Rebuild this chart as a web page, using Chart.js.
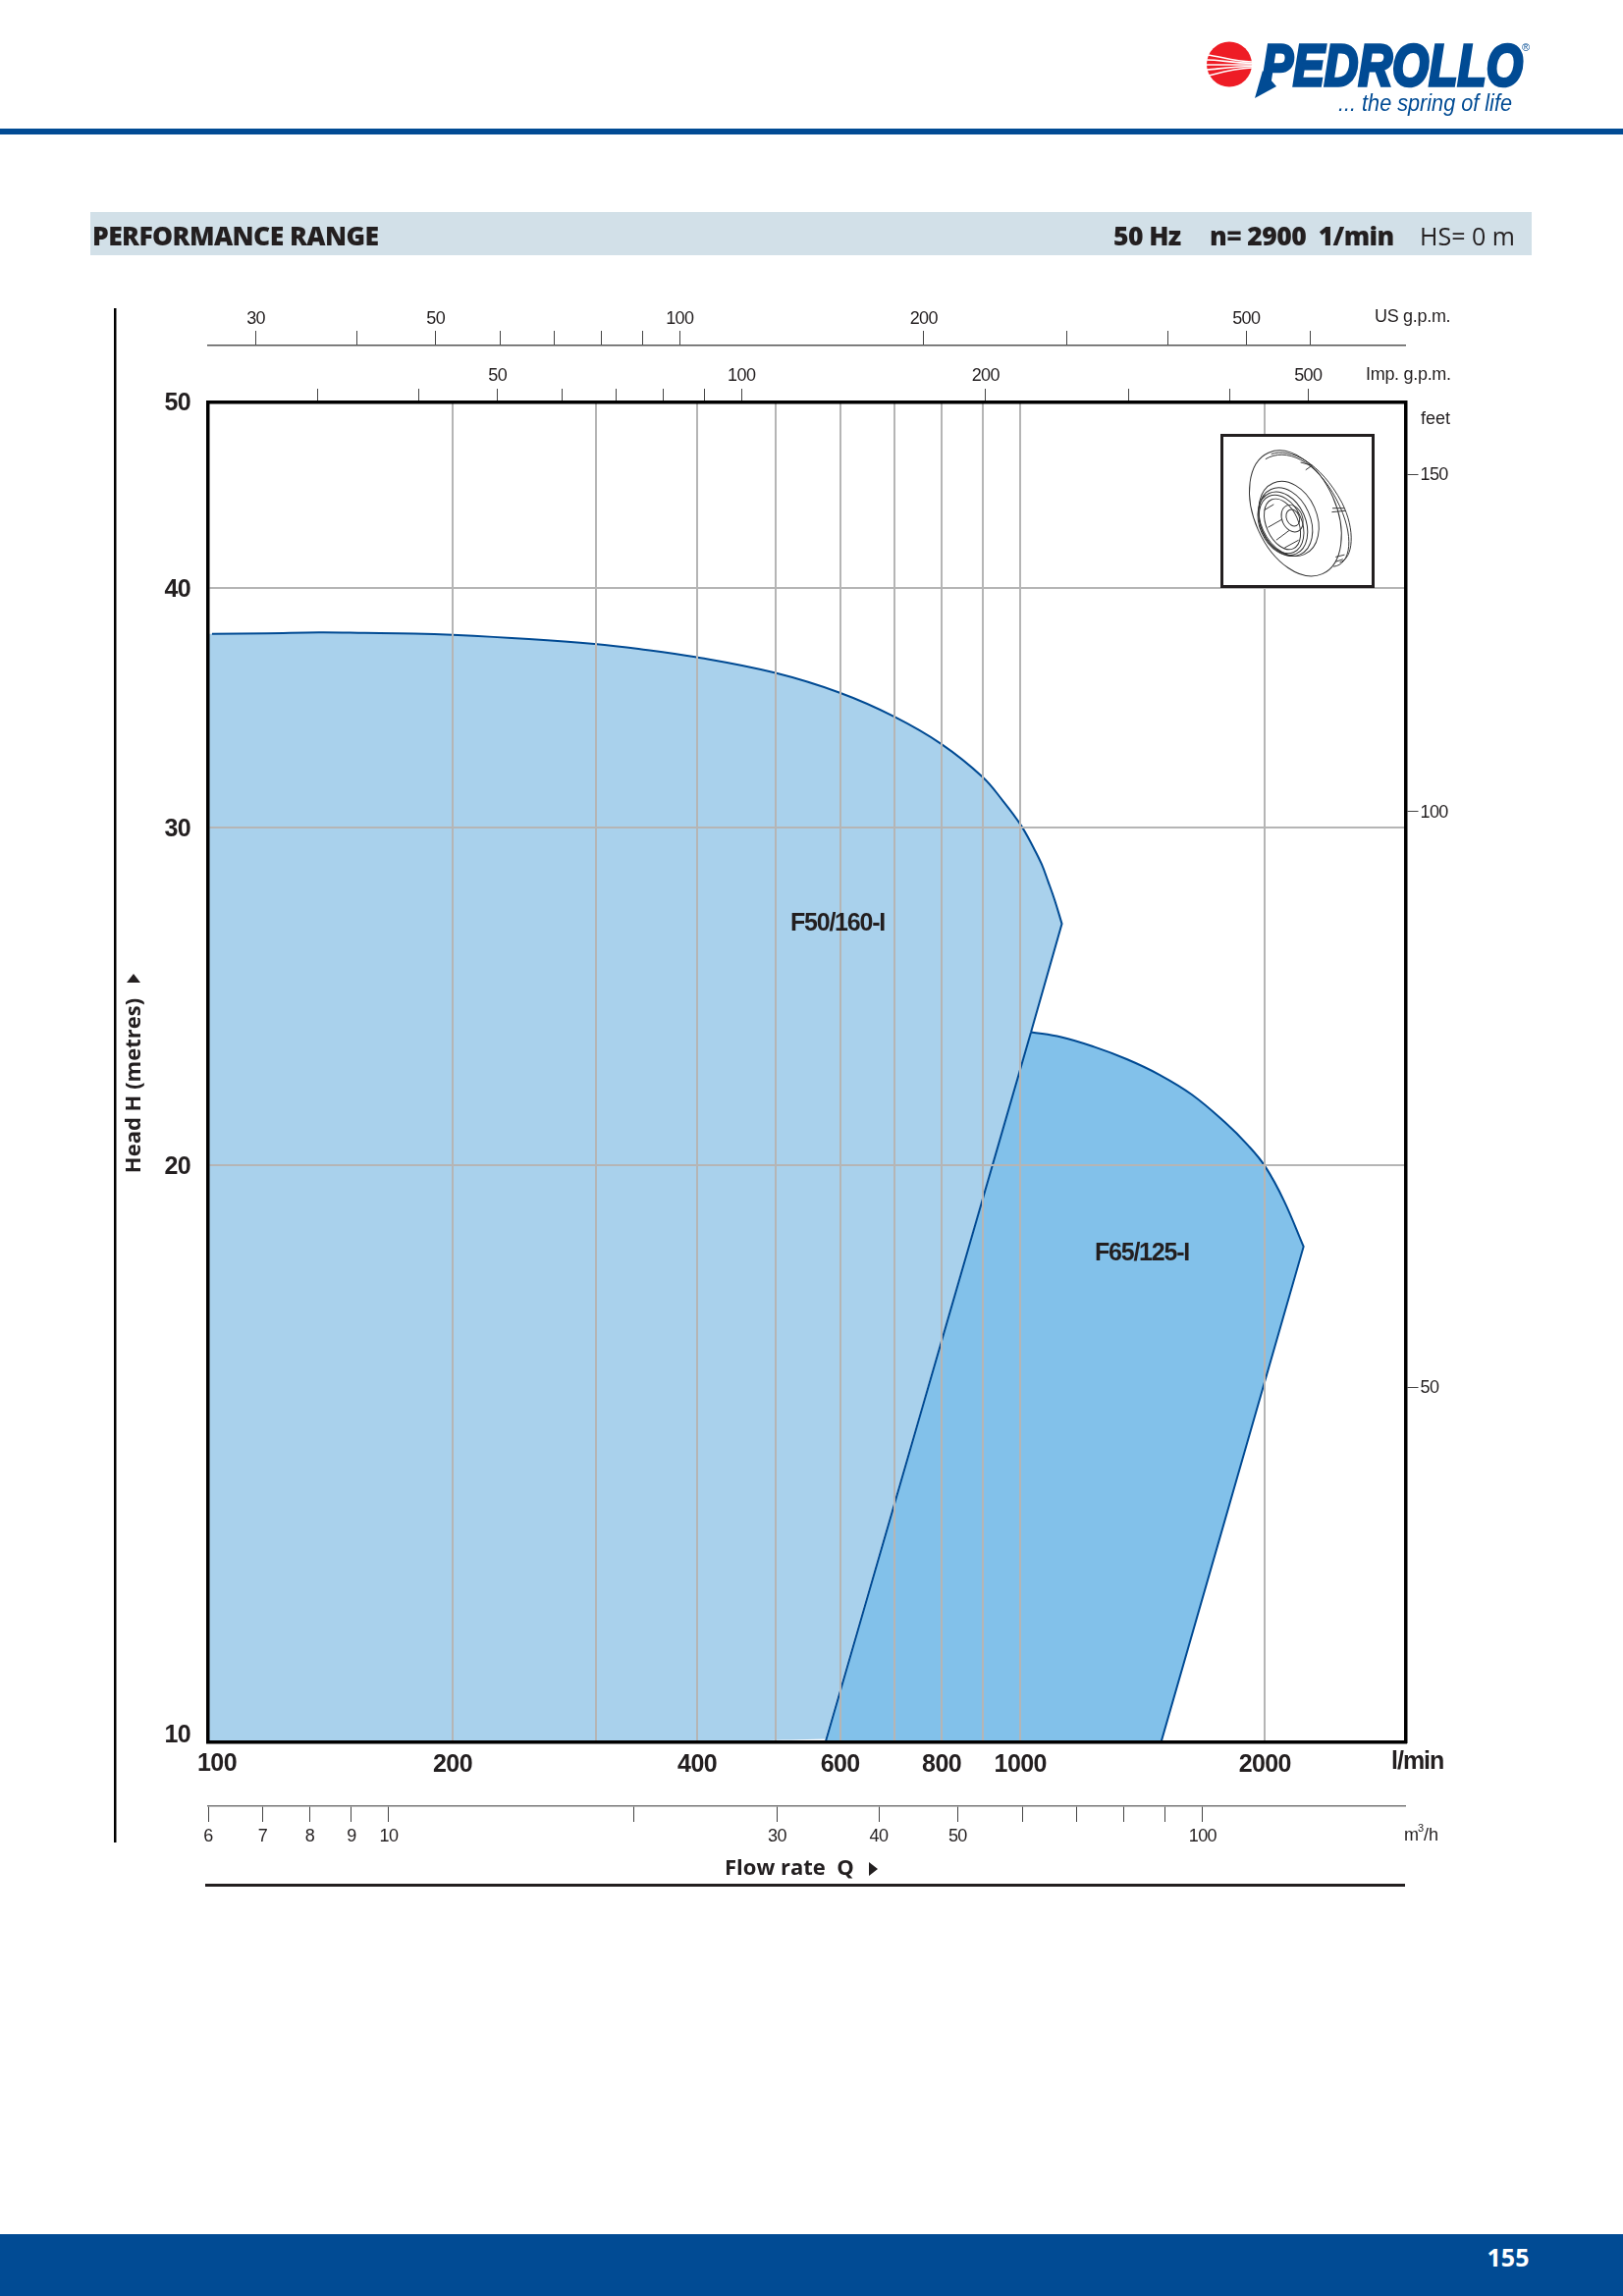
<!DOCTYPE html>
<html>
<head>
<meta charset="utf-8">
<title>Performance range</title>
<script src="https://cdn.jsdelivr.net/npm/chart.js@4"></script>
<style>
  html, body { margin: 0; padding: 0; background: #fff; }
  #page { position: relative; width: 1653px; height: 2339px; overflow: hidden; }
  #chart { position: absolute; left: 0; top: 0; }
  #logo { position: absolute; left: 0; top: 0; }
  #rule { position: absolute; left: 0; top: 131px; width: 1653px; height: 6px; background: #014b94; }
  #band { position: absolute; left: 92px; top: 216px; width: 1468px; height: 44px; background: #d2e0e8; }
  .bandtext { position: absolute; top: 216px; line-height: 48px; color: #231f20; font-family: "Open Sans", sans-serif; white-space: pre; }
  .heavy { font-size: 26.5px; font-weight: 800; letter-spacing: -0.6px; }
  #impeller { position: absolute; left: 1243px; top: 442px; width: 157px; height: 157px; box-sizing: border-box; border: 3px solid #231f20; background: #fff; }
  #footer { position: absolute; left: 0; top: 2276px; width: 1653px; height: 63px; background: #014b94; }
  #pageno { position: absolute; left: 1512px; top: 2276px; width: 48px; text-align: center; color: #fff; font: bold 25px/46px "Open Sans", sans-serif; }
</style>
</head>
<body>
<div id="page">
  <canvas id="chart" width="1653" height="2339"></canvas>

  <svg id="logo" width="1653" height="130" viewBox="0 0 1653 130">
    <circle cx="1252" cy="65.5" r="23" fill="#ee1c25"/>
    <g fill="none" stroke="#fff" stroke-width="1.6">
      <path d="M1229 56 C1242 57 1254 62 1275 63"/>
      <path d="M1229 61 C1242 61 1254 64 1275 64.5"/>
      <path d="M1229 66 C1242 66 1254 66 1275 66"/>
      <path d="M1229 71 C1242 70 1254 68 1275 67.5"/>
      <path d="M1231 77 C1243 74 1256 70 1275 69"/>
    </g>
    <text x="1285" y="87" font-family="'Liberation Sans', sans-serif" font-size="60" font-weight="bold" font-style="italic" fill="#014b94" stroke="#014b94" stroke-width="3.5" textLength="266" lengthAdjust="spacingAndGlyphs">PEDROLLO</text>
    <path d="M1286 72 L1300 88 L1278 100 Z" fill="#014b94"/>
    <text x="1554" y="52" font-family="'Liberation Sans', sans-serif" font-size="11" fill="#014b94" text-anchor="middle">®</text>
    <text x="1363" y="113" font-family="'Liberation Sans', sans-serif" font-size="23" font-style="italic" fill="#014b94" textLength="177" lengthAdjust="spacingAndGlyphs">... the spring of life</text>
  </svg>
  <div id="rule"></div>

  <div id="band"></div>
  <div class="bandtext heavy" style="left:94px">PERFORMANCE RANGE</div>
  <div class="bandtext heavy" style="left:1134px">50 Hz</div>
  <div class="bandtext heavy" style="left:1232px">n= 2900  1/min</div>
  <div class="bandtext" style="left:1446px;font-size:25px">HS= 0 m</div>

  <!-- impeller drawing, coordinates follow a 3x crop of the box -->
  <svg id="impeller" viewBox="40 38 465 465">
    <g fill="none" stroke="#333" stroke-width="3">
      <ellipse cx="266" cy="278" rx="128" ry="208" transform="rotate(-24 266 278)"/>
      <path d="M172 108 C235 70 330 110 395 235 C455 350 440 440 385 445"/>
      <path d="M190 92 C250 72 345 118 412 245 C455 330 448 420 405 432"/>
      <path d="M282 118 L318 128 M298 142 L318 128"/>
      <path d="M382 262 L420 262 M380 274 L422 270"/>
      <path d="M392 415 L420 408 M392 430 L415 422"/>
      <ellipse cx="245" cy="295" rx="88" ry="122" transform="rotate(-24 245 295)"/>
      <ellipse cx="235" cy="305" rx="78" ry="112" transform="rotate(-24 235 305)"/>
      <ellipse cx="226" cy="310" rx="72" ry="104" transform="rotate(-24 226 310)"/>
      <ellipse cx="222" cy="312" rx="64" ry="96" transform="rotate(-24 222 312)"/>
      <ellipse cx="225" cy="312" rx="50" ry="84" transform="rotate(-24 225 312)"/>
      <ellipse cx="258" cy="292" rx="20" ry="27" transform="rotate(-24 258 292)"/>
      <ellipse cx="256" cy="294" rx="32" ry="44" transform="rotate(-24 256 294)"/>
      <path d="M168 268 L198 250 M180 322 L222 298 M206 362 L246 332 M232 386 L276 362"/>
    </g>
  </svg>

  <div id="footer"></div>
  <div id="pageno">155</div>
</div>

<script>
// values
// a repeated point keeps its corner sharp once the line gets tension

// flow l/min and head m along the top of the F50/160-I range
var f50Flow = [101.1, 118.1, 137, 156, 179.4, 200, 248.2, 298.9, 338.8, 397.9, 498.1, 599.4, 699.7, 800.6, 898.3, 949.7, 1000.6, 1037.5, 1062, 1082, 1102, 1125, 1125];
var f50Head = [37.87, 37.89, 37.93, 37.91, 37.88, 37.82, 37.63, 37.41, 37.19, 36.83, 36.14, 35.28, 34.28, 33.16, 31.89, 31.02, 30.11, 29.3, 28.72, 28.12, 27.51, 26.73, 26.73];
// right edge as far as the F65 corner
var f50EdgeFlow = [1030.6];
var f50EdgeHead = [23.47];
// corners that close the F50 area along the bottom and up the left side
var f50BaseFlow = [575.2, 575.2, 398, 398, 100.3, 100.3, 100.3, 100.3, 101.1];
var f50BaseHead = [10.04, 10.04, 10, 10, 10, 10, 37.87, 37.87, 37.87];

var f65Flow = [1030.6, 1030.6, 1122.7, 1232, 1352, 1483, 1627, 1786, 1906, 2002, 2111, 2232, 2232, 1490, 1490, 575.4, 575.4, 1030.6, 1030.6];
var f65Head = [23.47, 23.47, 23.33, 23.06, 22.72, 22.3, 21.77, 21.06, 20.49, 19.97, 19.17, 18.14, 18.14, 10, 10, 10, 10, 23.47, 23.47];

// main axes
var flowTicks = [100, 200, 300, 400, 500, 600, 700, 800, 900, 1000, 2000];
var flowLabels = [200, 400, 600, 800, 1000, 2000];
var headTicks = [10, 20, 30, 40, 50];
var headLabels = [20, 30, 40, 50];

// secondary axes
var usTicks = [30, 40, 50, 60, 70, 80, 90, 100, 200, 300, 400, 500, 600];
var usLabels = [30, 50, 100, 200, 500];
var impTicks = [30, 40, 50, 60, 70, 80, 90, 100, 200, 300, 400, 500];
var impLabels = [50, 100, 200, 500];
var m3hTicks = [6, 7, 8, 9, 10, 20, 30, 40, 50, 60, 70, 80, 90, 100];
var m3hLabels = [6, 7, 8, 9, 10, 30, 40, 50, 100];
var feetTicks = [50, 100, 150];

var NARROW = '"Liberation Sans Narrow", "Liberation Sans", sans-serif';
var SANS = '"Open Sans", sans-serif';
var INK = '#231f20';
var LINE_BLUE = '#004a93';

function zip(xs, ys) {
  return xs.map(function (x, i) { return { x: x, y: ys[i] }; });
}

function tickList(values) {
  return function (axis) {
    axis.ticks = values.map(function (v) { return { value: v }; });
  };
}

function labelOnly(values) {
  return function (v) {
    return values.indexOf(v) >= 0 ? String(v) : '';
  };
}

function fixedHeight(h) {
  return function (axis) { axis.height = h; };
}

function fixedWidth(w) {
  return function (axis) { axis.width = w; };
}

// thin secondary log axis, only ticks and labels
function sideAxis(axisName, position, min, max, ticks, labels, size, tickLength, padding, weight) {
  var horizontal = axisName === 'x';
  return {
    type: 'logarithmic',
    axis: axisName,
    position: position,
    min: min,
    max: max,
    bounds: 'data',
    weight: weight,
    afterBuildTicks: tickList(ticks),
    afterFit: horizontal ? fixedHeight(size) : fixedWidth(size),
    grid: { drawOnChartArea: false, drawTicks: true, tickLength: tickLength, color: '#444', lineWidth: 1 },
    ticks: {
      autoSkip: false, maxRotation: 0, minRotation: 0, padding: padding,
      labelOffset: horizontal ? 0 : 1,
      color: INK, font: { family: NARROW, size: 18 },
      callback: labelOnly(labels)
    }
  };
}

// the printed tick digits are condensed, no such face here so tighten them
var tightTicks = {
  id: 'tightTicks',
  beforeDraw: function (chart) {
    chart.ctx.letterSpacing = '-0.6px';
  }
};

// loose text around the plot: units, axis names, the model names
var pageText = {
  id: 'pageText',
  afterDraw: function (chart) {
    var c = chart.ctx;
    var sx = chart.scales.x, sy = chart.scales.y;

    function put(text, x, y, font, align, spacing) {
      c.font = font;
      c.textAlign = align || 'left';
      c.textBaseline = 'middle';
      c.letterSpacing = spacing || '0px';
      c.fillStyle = INK;
      c.fillText(text, x, y);
    }

    c.save();
    var bold = 'bold 25px ' + NARROW;
    var thin = '18px ' + NARROW;

    // the corner labels sit off their ticks
    put('100', sx.getPixelForValue(100) + 9, 1797, bold, 'center', '-0.6px');
    put('10', 194, sy.getPixelForValue(10) - 7, bold, 'right', '-0.6px');

    put('l/min', 1417, 1795, bold, 'left', '-1px');
    put('US g.p.m.', 1400, 323, thin, 'left', '-0.3px');
    put('Imp. g.p.m.', 1391, 382, thin, 'left', '-0.3px');
    put('feet', 1447, 427, thin);
    put('m', 1430, 1870, thin);
    put('3', 1444, 1863, '11px ' + NARROW);
    put('/h', 1450, 1870, thin);

    put('F50/160-I', 853, 941, bold, 'center', '-1.2px');
    put('F65/125-I', 1163, 1277, bold, 'center', '-1.2px');

    put('Flow rate  Q', 738, 1904, 'bold 22px ' + SANS);
    c.beginPath();
    c.moveTo(885, 1897);
    c.lineTo(894, 1904);
    c.lineTo(885, 1911);
    c.closePath();
    c.fill();

    c.save();
    c.translate(137, 1106);
    c.rotate(-Math.PI / 2);
    put('Head H (metres)', 0, 0, 'bold 22px ' + SANS, 'center');
    c.restore();
    c.beginPath();
    c.moveTo(129, 1001);
    c.lineTo(136, 992);
    c.lineTo(143, 1001);
    c.closePath();
    c.fill();

    // frame rules outside the plot
    c.fillStyle = '#000';
    c.fillRect(116, 314, 2.5, 1563);
    c.fillStyle = INK;
    c.fillRect(209, 1919, 1222, 3);
    c.restore();
  }
};

var frame = { color: '#000', width: 3.5, z: 2 };
var gridLine = { color: '#b5b5b5', lineWidth: 2, z: 1, drawTicks: false };

new Chart(document.getElementById('chart'), {
  type: 'line',
  data: {
    datasets: [
      {
        label: 'F50/160-I area',
        data: zip(f50Flow.concat(f50BaseFlow), f50Head.concat(f50BaseHead)),
        fill: 'shape', backgroundColor: '#a9d1ec', borderWidth: 0, pointRadius: 0, tension: 0.4, order: 4
      },
      {
        label: 'F50/160-I',
        data: zip(f50Flow.concat(f50EdgeFlow), f50Head.concat(f50EdgeHead)),
        fill: false, borderColor: LINE_BLUE, borderWidth: 2, pointRadius: 0, tension: 0.4, order: 3
      },
      {
        label: 'F65/125-I',
        data: zip(f65Flow, f65Head),
        fill: 'shape', backgroundColor: '#82c1ea', borderColor: LINE_BLUE, borderWidth: 2, pointRadius: 0, tension: 0.4, order: 2
      }
    ]
  },
  options: {
    responsive: false,
    animation: false,
    devicePixelRatio: 1,
    layout: { padding: { left: 160, right: 161.5, top: 300, bottom: 449 } },
    plugins: { legend: { display: false }, title: { display: false }, tooltip: { enabled: false } },
    elements: { line: { borderJoinStyle: 'miter' } },
    scales: {
      x: {
        type: 'logarithmic', position: 'bottom', min: 100, max: 2980, bounds: 'data', weight: 2,
        afterBuildTicks: tickList(flowTicks),
        afterFit: fixedHeight(65),
        grid: gridLine,
        border: frame,
        ticks: {
          autoSkip: false, maxRotation: 0, minRotation: 0, padding: 8,
          color: INK, font: { family: NARROW, size: 25, weight: 'bold' },
          callback: labelOnly(flowLabels)
        }
      },
      y: {
        type: 'logarithmic', position: 'left', min: 10, max: 50, bounds: 'data',
        afterBuildTicks: tickList(headTicks),
        afterFit: fixedWidth(52),
        grid: gridLine,
        border: frame,
        ticks: {
          autoSkip: false, padding: 18, labelOffset: 1.5,
          color: INK, font: { family: NARROW, size: 25, weight: 'bold' },
          callback: labelOnly(headLabels)
        }
      },
      // l/min divided by 3.785 and 4.546, nudged to the printed ticks
      xImp: Object.assign(sideAxis('x', 'top', 21.98, 659.4, impTicks, impLabels, 58, 14, 2, 2), { border: frame }),
      xUS: Object.assign(sideAxis('x', 'top', 26.2, 786, usTicks, usLabels, 52, 15, 1, 3), { border: { color: '#555', width: 1.5 } }),
      xM3h: Object.assign(sideAxis('x', 'bottom', 6, 177.5, m3hTicks, m3hLabels, 50, 16, 4, 3), { border: { color: '#777', width: 1.5 } }),
      yFeet: Object.assign(sideAxis('y', 'right', 32.6, 163.6, feetTicks, feetTicks, 60, 13, 2, 1), { border: frame })
    }
  },
  plugins: [tightTicks, pageText]
});
</script>
</body>
</html>
